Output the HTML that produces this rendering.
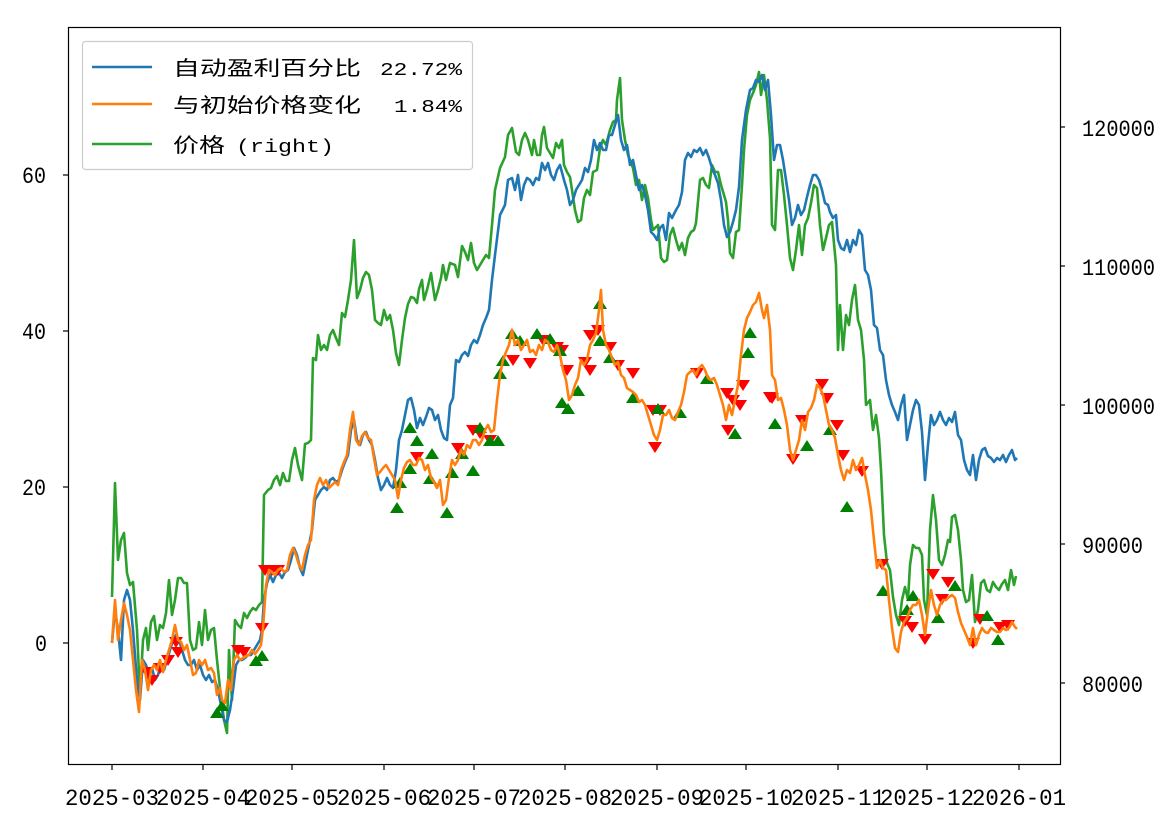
<!DOCTYPE html>
<html><head><meta charset="utf-8"><style>
html,body{margin:0;padding:0;background:#fff;}
svg text{font-family:"Liberation Mono","WenQuanYi Zen Hei","Noto Sans CJK SC",monospace;font-size:18px;fill:#000;}
svg text.tk{font-size:23px;}
svg text.cj{font-family:"WenQuanYi Zen Hei","Noto Sans CJK SC",sans-serif;font-size:20px;}
</style></head><body>
<svg id="s" width="1160" height="812" viewBox="0 0 1160 812" xmlns="http://www.w3.org/2000/svg">
<rect width="1160" height="812" fill="#fff"/>
<g fill="none" stroke-width="2.6" stroke-linejoin="round">
<polyline stroke="#2ca02c" points="112,597 115,483 118,560 121,540 124,533 127,573 130,585 133,582 137,630 140,695 143,640 146,628 148,650 151,622 154,616 157,640 160,625 163,628 166,613 169,580 172,615 175,600 178,578 181,578 184,583 187,583 190,640 193,650 196,648 199,622 202,645 205,610 208,640 211,630 214,628 217,660 220,688 222,705 224,720 227,733 229,650 232,700 235,620 238,625 241,628 244,613 247,618 250,612 253,608 256,610 259,605 262,602 264,495 268,490 271,488 274,480 277,476 280,485 283,473 286,481 289,481 292,460 295,448 298,465 302,480 305,444 308,443 311,440 313,358 316,360 318,335 321,350 324,345 327,350 330,335 333,330 336,338 339,345 342,313 345,317 348,300 351,280 354,240 357,298 360,290 363,278 366,272 369,275 372,290 375,320 378,323 381,325 384,310 387,320 390,315 393,330 396,353 399,365 402,340 405,318 408,304 411,297 414,298 417,303 419,289 422,280 424,300 427,290 431,273 435,300 438,290 441,278 443,265 446,280 450,263 455,265 458,277 462,246 465,252 468,260 471,243 474,263 477,270 480,265 483,260 486,255 489,258 492,225 495,190 500,168 505,157 508,135 512,128 516,152 519,155 522,140 525,133 528,140 532,155 534,140 537,155 540,155 542,135 544,127 547,148 550,153 553,158 556,143 559,148 562,140 564,165 567,172 570,177 572,190 575,210 578,222 581,220 584,198 587,190 590,195 593,172 597,170 600,148 603,140 606,145 610,130 613,122 616,120 617,100 620,78 622,120 625,140 628,155 630,160 633,168 636,185 639,180 642,200 645,185 648,198 651,220 653,230 655,228 658,225 661,258 664,262 667,260 670,235 673,228 676,240 679,250 682,243 685,255 688,238 691,232 694,230 696,223 700,180 703,178 706,185 709,188 712,165 715,172 718,172 721,185 724,195 726,202 728,220 730,253 733,258 736,232 739,230 742,185 744,150 747,115 750,100 753,93 756,85 759,72 761,95 764,75 767,100 770,138 772,225 775,230 778,170 781,170 784,195 787,225 790,258 793,270 796,250 799,225 802,255 805,225 808,218 811,203 814,185 817,188 820,225 823,250 826,238 829,225 832,222 836,265 838,350 840,305 843,350 846,315 849,325 852,300 855,285 858,320 861,330 864,360 866,405 870,400 873,430 876,415 879,438 881,470 884,535 887,563 890,570 893,597 896,615 899,625 902,600 905,587 908,600 910,565 913,545 916,548 919,548 922,555 924,600 927,615 930,530 933,495 936,520 939,560 942,565 945,555 948,540 950,542 952,517 955,515 958,530 961,560 963,590 966,602 969,600 972,575 975,622 978,610 981,583 984,580 987,590 990,592 993,582 996,587 999,590 1002,584 1005,580 1008,590 1011,570 1014,585 1016,576"/>
<polyline stroke="#1f77b4" points="112,643 115,610 118,630 121,660 124,600 127,590 130,600 133,630 137,680 140,700 143,660 146,665 149,675 152,668 155,680 158,675 161,665 164,670 167,660 170,650 173,640 176,635 179,640 182,650 185,660 188,665 191,665 194,660 197,670 200,665 203,675 206,680 209,675 212,682 215,680 218,690 221,705 224,720 227,722 230,710 233,690 236,665 239,660 242,660 245,658 248,655 251,655 254,650 257,645 260,640 262,630 264,600 267,583 270,575 273,582 276,575 279,573 282,578 285,572 288,570 291,560 294,548 297,555 300,568 303,575 306,560 309,545 312,530 315,500 318,495 321,490 324,487 327,490 330,480 333,478 336,482 339,480 342,470 345,462 348,455 351,430 354,420 357,440 360,445 363,435 366,432 369,440 372,445 375,460 378,478 381,490 384,485 387,478 390,485 393,488 396,470 399,440 402,430 405,415 408,400 411,398 414,410 417,428 420,418 423,425 426,417 429,408 432,410 435,420 438,415 441,430 444,438 447,440 450,405 453,398 456,360 459,362 462,355 465,352 468,356 471,345 474,340 477,343 480,335 483,325 486,318 489,310 492,280 495,255 500,215 505,205 508,180 512,178 515,190 518,175 521,200 524,185 527,178 530,180 533,185 536,178 539,180 542,163 545,170 548,163 551,175 554,180 557,170 560,165 564,180 567,190 570,205 573,200 576,190 579,185 582,180 585,168 588,172 591,160 594,140 597,150 600,143 603,150 606,150 609,135 612,135 615,125 618,115 621,140 624,150 627,145 630,165 633,160 636,175 639,190 642,185 645,195 648,210 651,232 654,235 657,240 660,228 663,225 666,240 669,213 672,218 676,210 679,205 682,192 685,160 688,153 691,157 694,150 697,152 700,148 703,155 706,150 709,158 712,168 715,175 718,183 721,200 724,225 727,237 730,232 733,222 736,210 739,187 742,140 746,110 750,90 753,88 756,80 759,82 762,75 765,90 768,80 771,115 774,160 777,145 780,145 783,160 786,180 789,200 792,225 795,218 798,205 801,215 804,210 807,197 810,185 813,175 816,175 819,180 822,190 825,203 828,205 830,212 833,218 836,215 838,240 841,248 844,250 847,240 850,252 853,240 856,245 859,230 862,235 865,270 868,275 871,290 874,325 877,328 880,350 883,355 886,380 889,395 892,405 895,412 898,420 901,405 904,395 907,440 910,425 913,410 916,400 919,405 922,432 925,480 928,445 931,415 934,425 937,420 940,412 943,420 946,425 949,418 952,422 955,412 958,435 961,440 964,460 967,470 970,475 973,455 976,480 979,460 982,450 985,448 988,456 991,458 994,462 997,458 1000,460 1003,455 1006,462 1009,455 1012,450 1015,460 1017,458"/>
</g>
<g id="tri"></g>
<polyline fill="none" stroke="#ff7f0e" stroke-width="2.6" stroke-linejoin="round" points="112,643 115,600 118,640 121,620 124,603 127,615 130,630 133,660 136,690 139,712 142,660 145,670 148,690 151,670 154,665 157,670 160,660 163,672 166,660 169,650 172,640 175,625 178,640 181,642 184,650 187,645 190,660 193,675 196,673 199,660 202,665 205,660 208,670 211,668 214,673 217,695 220,688 222,700 225,703 228,680 231,690 234,660 237,655 240,660 243,658 246,656 249,655 252,650 255,654 258,650 261,645 263,628 266,585 269,570 272,572 275,575 278,570 281,568 284,572 287,570 290,555 293,548 296,555 299,565 302,570 305,555 308,545 311,540 314,500 317,485 320,478 323,485 326,480 329,488 332,485 335,482 338,485 341,470 344,462 347,455 350,430 353,412 356,440 359,445 362,436 365,432 368,438 371,440 374,458 377,475 380,472 383,468 386,465 389,470 392,475 395,480 398,498 401,480 404,468 407,462 410,460 413,465 416,465 419,458 422,460 425,470 428,465 431,478 434,482 437,488 440,480 443,505 446,500 449,478 452,460 455,465 458,460 461,450 464,455 467,445 470,448 473,440 476,440 479,445 482,440 485,430 488,425 491,432 494,430 497,400 500,375 503,360 506,352 509,345 512,330 515,345 518,340 521,350 524,345 527,340 530,352 533,350 536,355 539,345 542,350 545,340 548,342 551,350 554,352 557,345 560,355 563,370 566,380 569,400 572,395 575,385 578,378 581,360 584,365 587,360 590,345 593,340 596,333 599,310 601,290 603,330 606,345 609,350 612,358 615,365 618,362 621,375 624,378 627,388 630,390 633,392 636,395 639,402 642,400 645,405 648,415 651,425 654,435 657,440 660,430 663,415 666,415 669,410 672,418 675,420 678,412 681,405 684,392 687,375 690,372 693,370 696,375 699,368 702,365 705,370 708,378 711,380 714,378 717,385 720,395 723,405 726,420 729,405 732,415 735,400 738,385 741,355 744,330 747,318 750,312 753,305 756,302 759,293 762,310 764,318 767,305 770,330 772,375 775,380 778,400 781,398 784,410 787,425 790,450 793,460 796,450 799,440 802,420 805,430 808,412 811,408 814,400 817,385 820,388 823,395 826,410 829,425 832,430 835,438 838,455 841,470 844,480 847,470 850,473 853,460 856,470 859,465 862,458 865,475 868,490 871,510 874,540 877,568 880,560 883,568 886,570 889,600 892,628 895,648 898,652 901,632 904,622 907,618 910,610 913,605 916,605 919,600 922,615 925,635 928,610 931,590 934,605 937,615 940,605 943,600 946,600 949,597 952,595 955,598 958,612 961,623 964,630 967,637 970,645 973,628 976,645 979,635 982,628 985,632 988,633 991,628 994,630 997,632 1000,632 1003,628 1006,630 1009,628 1012,622 1015,627 1017,629"/>
<rect x="68.5" y="27.5" width="992" height="737" fill="none" stroke="#000" stroke-width="1.2"/>
<g stroke="#000" stroke-width="1.2">
<line x1="63" y1="643" x2="68" y2="643"/><line x1="63" y1="487" x2="68" y2="487"/><line x1="63" y1="331" x2="68" y2="331"/><line x1="63" y1="175" x2="68" y2="175"/>
<line x1="1060" y1="127" x2="1065" y2="127"/><line x1="1060" y1="266" x2="1065" y2="266"/><line x1="1060" y1="405" x2="1065" y2="405"/><line x1="1060" y1="544" x2="1065" y2="544"/><line x1="1060" y1="683" x2="1065" y2="683"/>
<line x1="112" y1="765" x2="112" y2="770"/><line x1="203" y1="765" x2="203" y2="770"/><line x1="292" y1="765" x2="292" y2="770"/><line x1="384" y1="765" x2="384" y2="770"/><line x1="474" y1="765" x2="474" y2="770"/><line x1="565" y1="765" x2="565" y2="770"/><line x1="657" y1="765" x2="657" y2="770"/><line x1="746" y1="765" x2="746" y2="770"/><line x1="838" y1="765" x2="838" y2="770"/><line x1="927" y1="765" x2="927" y2="770"/><line x1="1019" y1="765" x2="1019" y2="770"/>
</g>
<g><text class="tk" x="35" y="651" textLength="12" lengthAdjust="spacingAndGlyphs">0</text><text class="tk" x="22" y="495" textLength="24" lengthAdjust="spacingAndGlyphs">20</text><text class="tk" x="22" y="339" textLength="24" lengthAdjust="spacingAndGlyphs">40</text><text class="tk" x="22" y="183" textLength="24" lengthAdjust="spacingAndGlyphs">60</text></g>
<g><text class="tk" x="1082" y="136" textLength="73" lengthAdjust="spacingAndGlyphs">120000</text><text class="tk" x="1082" y="275" textLength="73" lengthAdjust="spacingAndGlyphs">110000</text><text class="tk" x="1082" y="414" textLength="73" lengthAdjust="spacingAndGlyphs">100000</text><text class="tk" x="1082" y="553" textLength="61" lengthAdjust="spacingAndGlyphs">90000</text><text class="tk" x="1082" y="692" textLength="61" lengthAdjust="spacingAndGlyphs">80000</text></g>
<g id="xt"></g>
<rect x="82.5" y="41.5" width="390" height="128" rx="3" fill="#fff" fill-opacity="0.8" stroke="#ccc" stroke-width="1.2"/>
<line x1="92" y1="67" x2="152" y2="67" stroke="#1f77b4" stroke-width="2.6"/>
<line x1="92" y1="104" x2="152" y2="104" stroke="#ff7f0e" stroke-width="2.6"/>
<line x1="92" y1="144" x2="152" y2="144" stroke="#2ca02c" stroke-width="2.6"/>
<text class="cj" x="173" y="75" textLength="188" lengthAdjust="spacingAndGlyphs">自动盈利百分比</text>
<text x="380" y="75" textLength="82" lengthAdjust="spacingAndGlyphs">22.72%</text>
<text class="cj" x="173" y="112" textLength="188" lengthAdjust="spacingAndGlyphs">与初始价格变化</text>
<text x="394" y="112" textLength="68" lengthAdjust="spacingAndGlyphs">1.84%</text>
<text class="cj" x="173" y="152" textLength="52" lengthAdjust="spacingAndGlyphs">价格</text>
<text x="236" y="152" textLength="98" lengthAdjust="spacingAndGlyphs">(right)</text>
</svg>
<script>
var red=[[147,672],[152,680],[160,668],[168,660],[176,642],[178,652],[238,650],[244,652],[262,628],[265,570],[272,570],[278,570],[417,457],[458,448],[473,430],[480,433],[490,440],[513,360],[530,363],[543,340],[557,347],[562,350],[567,370],[585,362],[590,370],[590,335],[598,330],[610,347],[618,365],[633,373],[653,410],[655,447],[660,410],[697,373],[727,393],[728,430],[733,400],[743,385],[740,405],[770,397],[772,398],[802,420],[793,459],[822,384],[827,398],[837,425],[843,455],[862,471],[882,564],[905,621],[912,627],[925,639],[933,574],[942,599],[948,582],[973,643],[980,619],[1000,627],[1008,625]];
var grn=[[217,712],[222,705],[256,660],[262,655],[397,507],[400,482],[410,427],[417,440],[410,468],[432,453],[430,478],[447,512],[452,472],[462,453],[473,470],[480,427],[490,440],[498,440],[500,373],[503,360],[512,333],[520,340],[537,333],[550,338],[560,350],[562,402],[568,408],[578,390],[600,303],[600,340],[610,357],[633,397],[658,408],[680,412],[707,378],[735,433],[750,332],[748,352],[775,423],[807,445],[830,429],[847,506],[883,590],[907,609],[913,595],[938,617],[955,585],[987,615],[998,639]];
var h='';
red.forEach(function(p){h+='<path d="M'+(p[0]-7)+' '+(p[1]-5)+'h14l-7 11z" fill="#ff0000"/>';});
grn.forEach(function(p){h+='<path d="M'+(p[0]-7)+' '+(p[1]+6)+'h14l-7 -11z" fill="#008000"/>';});
document.getElementById('tri').innerHTML=h;
var xs=[112,203,292,384,474,565,657,746,838,927,1019],lb=['2025-03','2025-04','2025-05','2025-06','2025-07','2025-08','2025-09','2025-10','2025-11','2025-12','2026-01'],t='';
xs.forEach(function(x,i){t+='<text class="tk" x="'+(x-47)+'" y="805" textLength="94" lengthAdjust="spacingAndGlyphs">'+lb[i]+'</text>';});
document.getElementById('xt').innerHTML=t;
</script>
</body></html>
